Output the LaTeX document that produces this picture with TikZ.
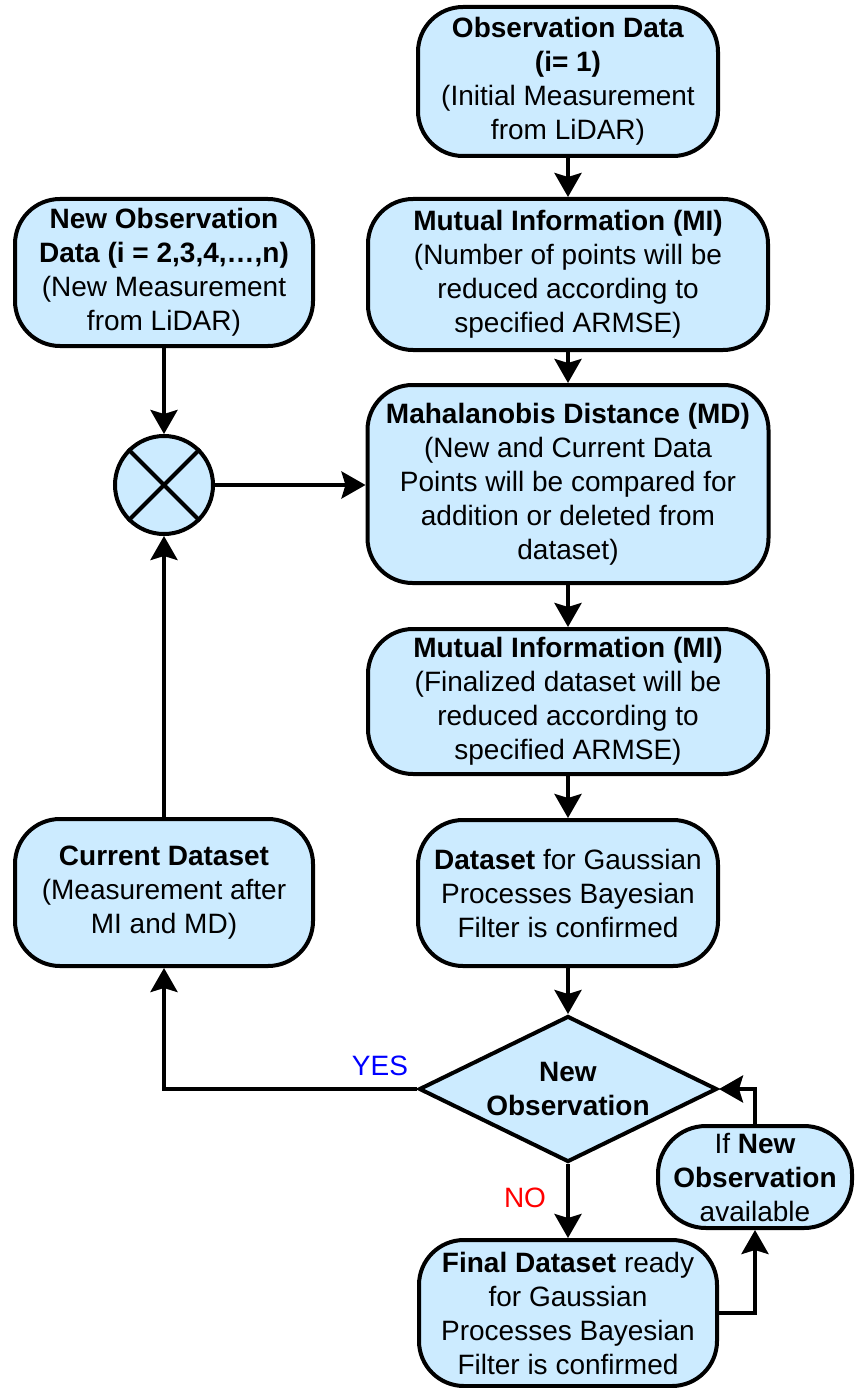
\documentclass[tikz,border=0pt]{standalone}
\usepackage{fontspec}
\setmainfont{Liberation Sans}
\usetikzlibrary{arrows.meta,shapes.geometric}
\definecolor{boxfill}{RGB}{204,235,255}
\begin{document}
\begin{tikzpicture}[x=1pt,y=-1pt,
  every node/.style={font=\fontsize{28}{34}\selectfont},
  block/.style={draw=black,line width=4pt,fill=boxfill,rounded corners=45pt,
    align=center,inner sep=0pt},
  pill/.style={block,rounded corners=48pt},
  decision/.style={draw=black,line width=4pt,fill=boxfill,diamond,aspect=2,
    align=center,inner sep=0pt,minimum width=298pt,minimum height=146pt},
  mixer/.style={draw=black,line width=4pt,fill=boxfill,circle,inner sep=0pt,
    minimum size=98pt},
  flow/.style={line width=4pt,-{Stealth[length=24pt,width=27pt,inset=4pt]}},
  lbl/.style={inner sep=0pt}
]
\useasboundingbox (0,0) rectangle (854,1388);

% right column
\node[block,minimum width=300pt,minimum height=149pt] (obs) at (568,81.5)
  {\textbf{Observation Data}\\\textbf{(i= 1)}\\(Initial Measurement\\from LiDAR)};
\node[block,minimum width=400pt,minimum height=151pt] (mi1) at (568,274.5)
  {\textbf{Mutual Information (MI)}\\(Number of points will be\\reduced according to\\specified ARMSE)};
\node[block,minimum width=401pt,minimum height=198pt] (md) at (568,484)
  {\textbf{Mahalanobis Distance (MD)}\\(New and Current Data\\Points will be compared for\\addition or deleted from\\dataset)};
\node[block,minimum width=400pt,minimum height=145pt] (mi2) at (568,701.5)
  {\textbf{Mutual Information (MI)}\\(Finalized dataset will be\\reduced according to\\specified ARMSE)};
\node[block,minimum width=300pt,minimum height=146pt] (ds) at (568,893)
  {\textbf{Dataset} for Gaussian\\Processes Bayesian\\Filter is confirmed};
\node[decision] (dia) at (568,1089) {\textbf{New}\\\textbf{Observation}};
\node[block,minimum width=298pt,minimum height=146pt] (final) at (568,1313)
  {\textbf{Final Dataset} ready\\for Gaussian\\Processes Bayesian\\Filter is confirmed};
\node[pill,minimum width=194pt,minimum height=102pt] (ifbox) at (755,1177)
  {If \textbf{New}\\\textbf{Observation}\\available};

% left column
\node[block,minimum width=298pt,minimum height=147pt] (newobs) at (164,272.5)
  {\textbf{New Observation}\\\textbf{Data (i = 2,3,4,…,n)}\\(New Measurement\\from LiDAR)};
\node[mixer] (circ) at (164,485) {};
\draw[line width=4pt] (circ.45) -- (circ.225) (circ.135) -- (circ.315);
\node[block,minimum width=298pt,minimum height=147pt] (cur) at (164,892.5)
  {\textbf{Current Dataset}\\(Measurement after\\MI and MD)};

% connectors
\draw[flow] (obs.south) -- (mi1.north);
\draw[flow] (mi1.south) -- (md.north);
\draw[flow] (md.south) -- (mi2.north);
\draw[flow] (mi2.south) -- (ds.north);
\draw[flow] (ds.south) -- (dia.north);
\draw[flow] (newobs.south) -- (circ.north);
\draw[flow] (circ.east) -- (circ.east -| md.west);
\draw[flow] (dia.west) -| (cur.south);
\draw[flow] (cur.north) -- (circ.south);
\draw[flow] (dia.south) -- (final.north);
\draw[flow] (final.east) -| (ifbox.south);
\draw[flow] (ifbox.north) |- (dia.east);

% branch labels
\node[lbl,text=blue] (yes) at (380,1066) {YES};
\node[lbl,text=red] (no) at (525,1198) {NO};
\end{tikzpicture}
\end{document}
